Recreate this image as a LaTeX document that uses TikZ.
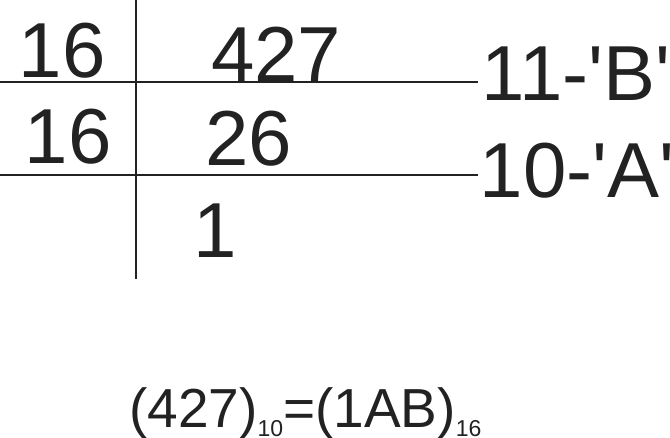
\documentclass[tikz,border=0pt]{standalone}
\usepackage{fontspec}
\setmainfont{Liberation Sans}
\usepackage{tikz}
\usetikzlibrary{positioning}
\definecolor{ink}{HTML}{222222}
\newcommand{\basesub}[1]{\raisebox{-9pt}{\fontsize{23}{23}\selectfont #1}}

\begin{document}
\begin{tikzpicture}[x=1pt, y=-1pt,
            num/.style={anchor=base west, inner sep=0pt, text=ink, font=\fontsize{78}{78}\selectfont},
            result/.style={anchor=base west, inner sep=0pt, text=ink, font=\fontsize{55}{55}\selectfont},
            rule/.style={draw=ink, line width=1.8pt}]

            \useasboundingbox (0,0) rectangle (670,437);

            % 除法表格
            \draw[rule] (136,0) -- (136,279);
            \draw[rule] (0,82) -- (478,82);
            \draw[rule] (0,175) -- (478,175);

            % 除数
            \node[num] (d1) at (18.5,77) {16};
            \node[num] (d2) at (24.5,163) {16};

            % 商
            \node[num] (q0) at (211,81) {427};
            \node[num] (q1) at (205,165) {26};
            \node[num] (q2) at (193.5,257) {1};

            % 余数
            \node[num] (r1) at (481.5,100) {11-\textquotesingle B\textquotesingle};
            \node[num] (r2) at (479.5,197) {10-\textquotesingle A\textquotesingle};

            % 结果
            \node[result] (res) at (129,427) {(427)\basesub{10}=(1AB)\basesub{16}};
        \end{tikzpicture}
\end{document}
